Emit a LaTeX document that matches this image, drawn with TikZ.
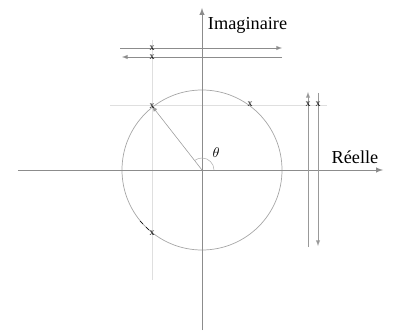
\documentclass[tikz,border=0pt]{standalone}
\usepackage{fontspec}
\setmainfont{Liberation Serif}
\usepackage{tikz}
\usetikzlibrary{arrows}
\tikzstyle{faint} = [gray!25, line width=0.6pt]
\tikzstyle{racine} = [inner sep=0pt, font=\fontsize{7}{7}\selectfont]

\begin{document}
\begin{tikzpicture}[x=0.025cm, y=0.025cm, >=latex]
\useasboundingbox (-202,-165) rectangle (191,170);

    % lignes de rappel
    \draw[faint] (-92,65) -- (125,65);
    \draw[faint] (-50,130) -- (-50,-110);

	\coordinate (O) at (0,0);
	\coordinate (p1) at (-50,64);
	\coordinate (p2) at (48,66);
	\coordinate (p3) at (-50,-63);

    % cercle unite
    \draw[gray!70, line width=0.5pt] (O) circle[radius=80];
    \draw[black, dashed, line width=0.4pt] (-62,-51) -- (p3);

    \draw[gray!90, line width=0.7pt, ->] (-184,0) -- (181,0);
    \draw[gray!90, line width=0.7pt, ->] (0,-160) -- (0,162);
    \node[font=\fontsize{13}{13}\selectfont] (re) at (153,13) {R\'eelle};
    \node[right, font=\fontsize{13}{13}\selectfont] (im) at (1,145) {Imaginaire};

    \draw[gray!80, ->] (O) -- (p1);
    \draw[gray!60] (12,0) arc[start angle=0, end angle=128, radius=12];
    \node (theta) at (14,17) {$\theta$};

    % lieux horizontaux
    \draw[gray!90, ->] (-82,122) -- (80,122);
    \draw[gray!90, ->] (80,113) -- (-80,113);
    % lieux verticaux
    \draw[gray!80, ->] (106,-77) -- (106,78);
    \draw[gray!80, ->] (116,77) -- (116,-76);

	\node[racine] (x1) at (p1) {x};
	\node[racine] (x2) at (p2) {x};
	\node[racine] (x3) at (p3) {x};
	\node[racine] (x4) at (-50,122) {x};
	\node[racine] (x5) at (-50,113) {x};
	\node[racine] (x6) at (106,66) {x};
	\node[racine] (x7) at (116,66) {x};
\end{tikzpicture}
\end{document}
